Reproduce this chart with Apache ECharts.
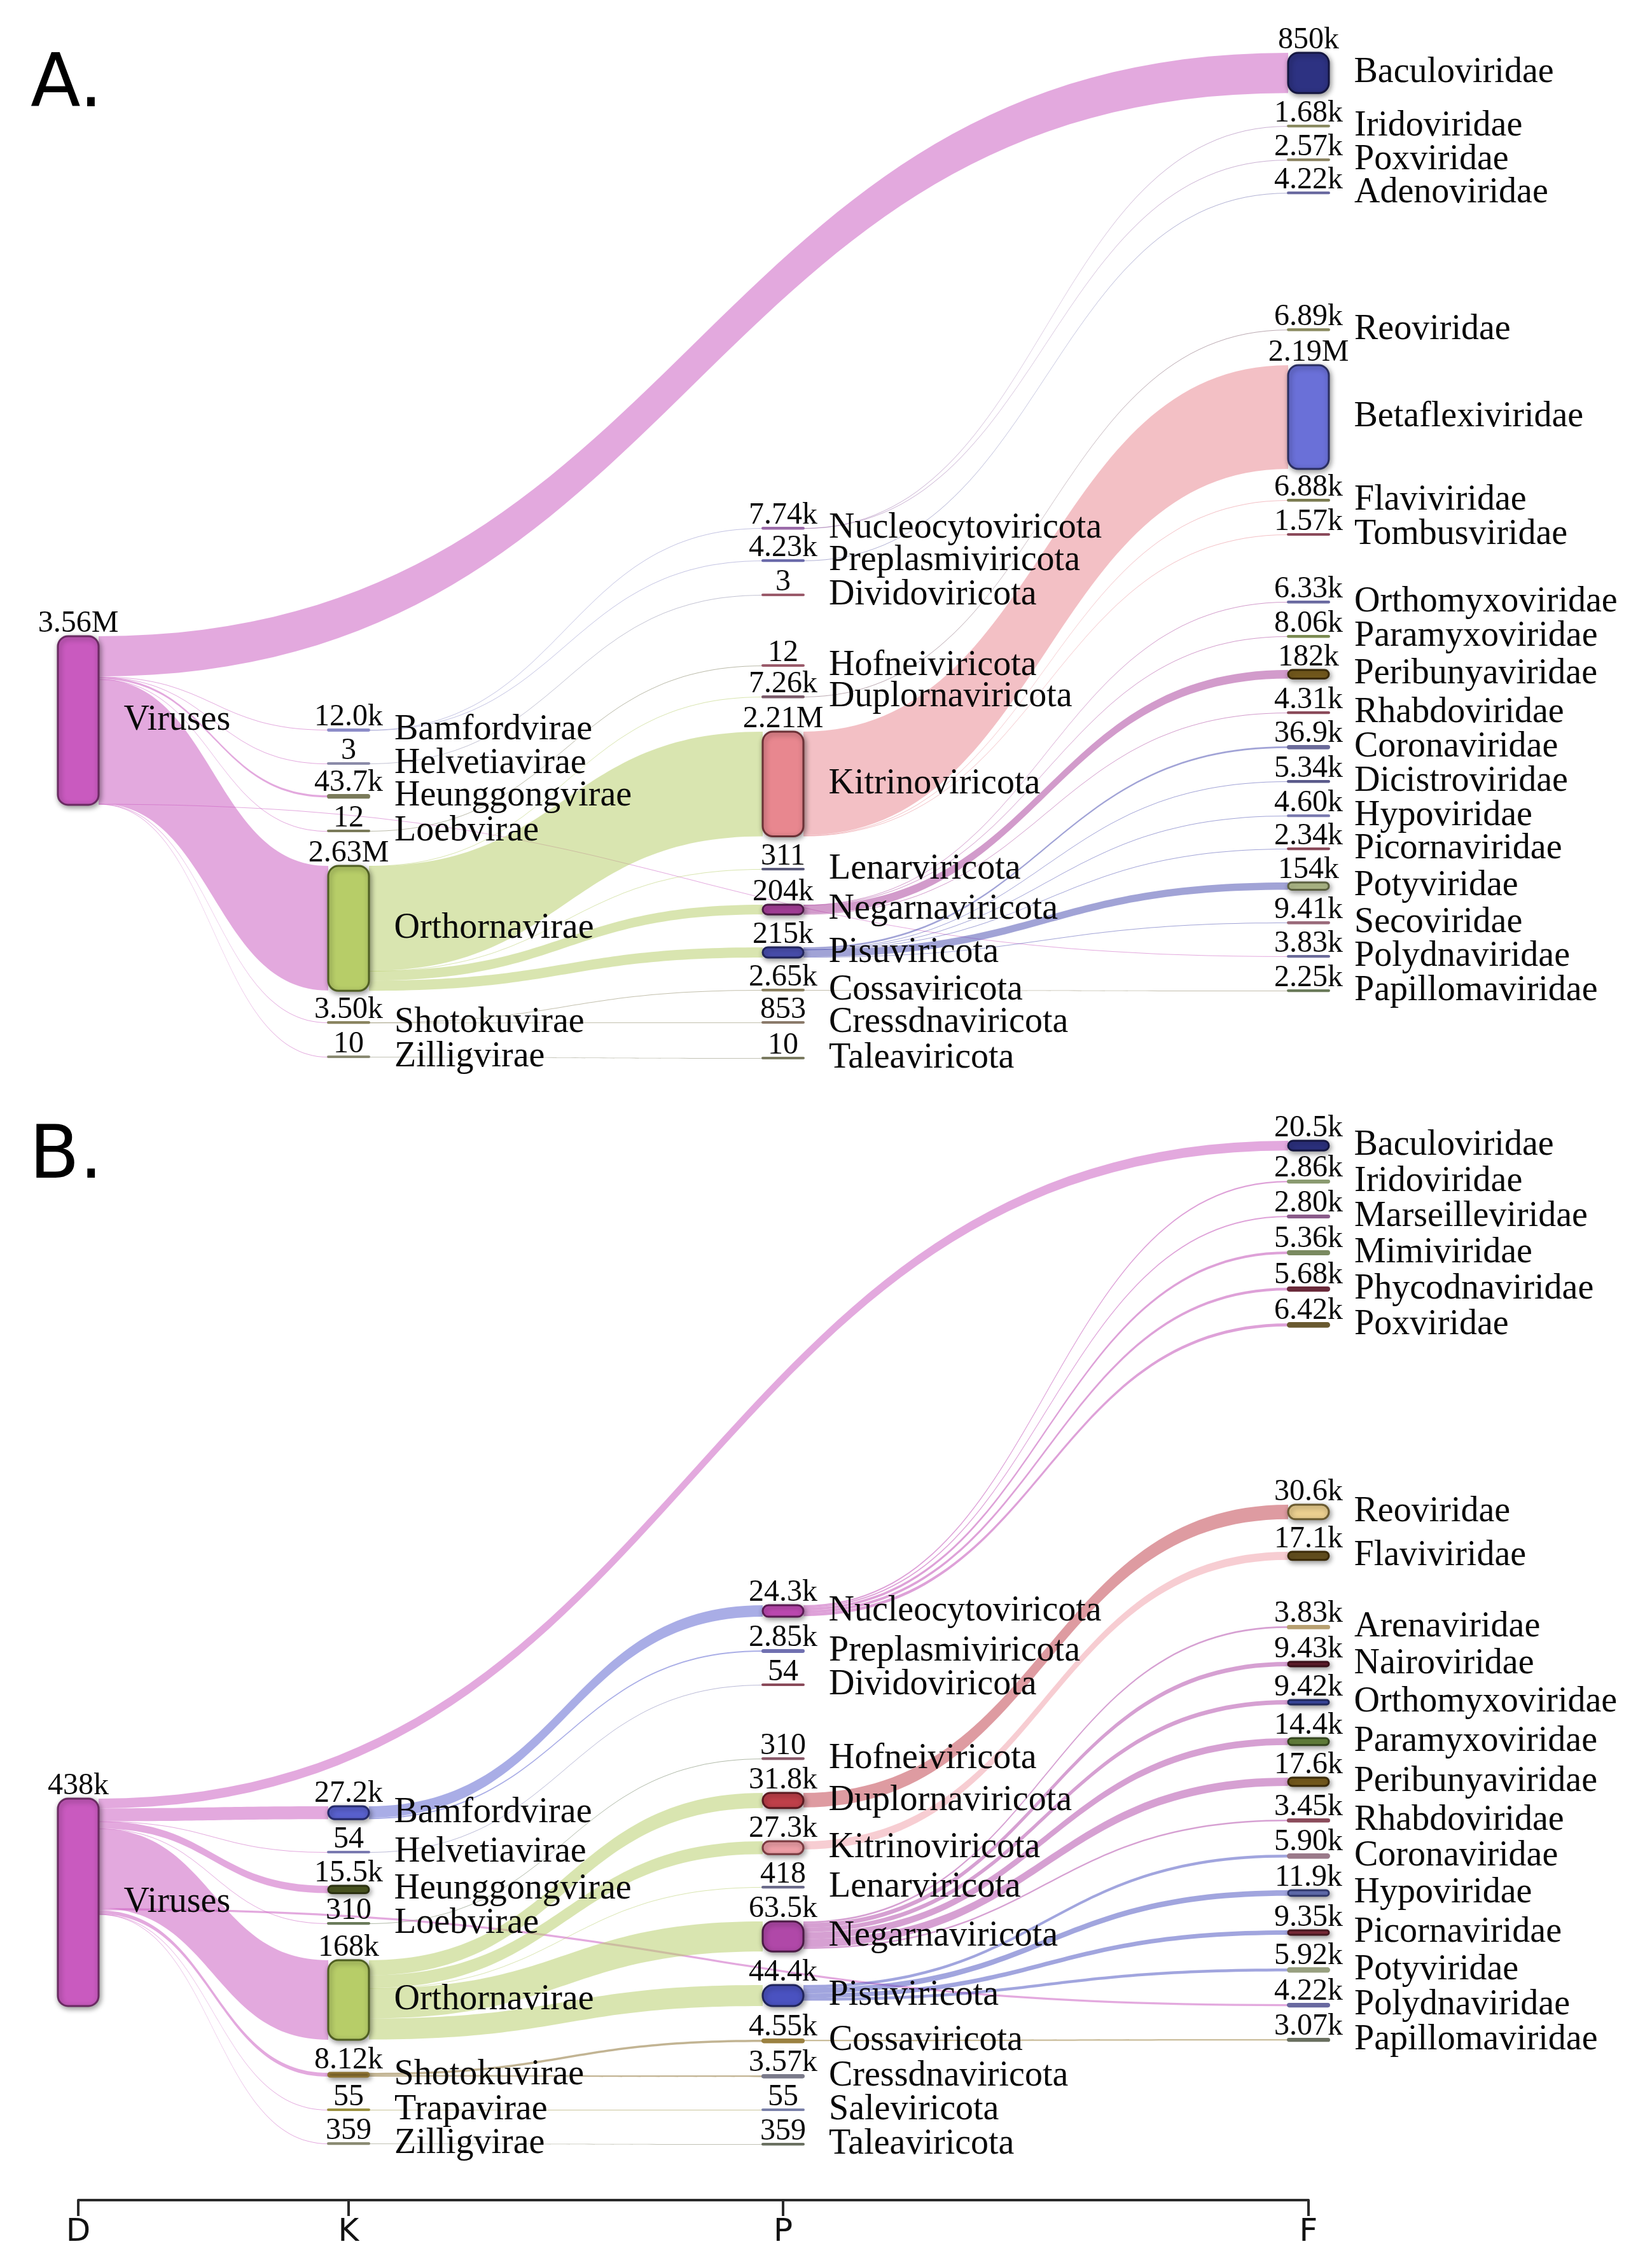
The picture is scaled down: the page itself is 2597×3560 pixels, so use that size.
<!DOCTYPE html>
<html><head><meta charset="utf-8">
<script src="https://cdn.jsdelivr.net/npm/echarts@6/dist/echarts.min.js"></script>
<style>html,body{margin:0;padding:0;background:#fff}#c{width:2597px;height:3560px}</style>
</head><body><div id="c"></div>
<script>
// ================= DATA =================
const rankLabels = ['D', 'K', 'P', 'F'];
const rootName = 'Viruses';

// ---- Panel A ----
const rootValueA = 3560000;
const kingdomsA = ['Bamfordvirae','Helvetiavirae','Heunggongvirae','Loebvirae','Orthornavirae','Shotokuvirae','Zilligvirae'];
const kingdomValuesA = [12000, 3, 43700, 12, 2630000, 3500, 10];
const phylaA = ['Nucleocytoviricota','Preplasmiviricota','Dividoviricota','Hofneiviricota','Duplornaviricota','Kitrinoviricota','Lenarviricota','Negarnaviricota','Pisuviricota','Cossaviricota','Cressdnaviricota','Taleaviricota'];
const phylumValuesA = [7740, 4230, 3, 12, 7260, 2210000, 311, 204000, 215000, 2650, 853, 10];
const phylumParentA = ['Bamfordvirae','Bamfordvirae','Helvetiavirae','Loebvirae','Orthornavirae','Orthornavirae','Orthornavirae','Orthornavirae','Orthornavirae','Shotokuvirae','Shotokuvirae','Zilligvirae'];
const familiesA = ['Baculoviridae','Iridoviridae','Poxviridae','Adenoviridae','Reoviridae','Betaflexiviridae','Flaviviridae','Tombusviridae','Orthomyxoviridae','Paramyxoviridae','Peribunyaviridae','Rhabdoviridae','Coronaviridae','Dicistroviridae','Hypoviridae','Picornaviridae','Potyviridae','Secoviridae','Polydnaviridae','Papillomaviridae'];
const familyValuesA = [850000, 1680, 2570, 4220, 6890, 2190000, 6880, 1570, 6330, 8060, 182000, 4310, 36900, 5340, 4600, 2340, 154000, 9410, 3830, 2250];
const familyParentA = ['Viruses','Nucleocytoviricota','Nucleocytoviricota','Preplasmiviricota','Duplornaviricota','Kitrinoviricota','Kitrinoviricota','Kitrinoviricota','Negarnaviricota','Negarnaviricota','Negarnaviricota','Negarnaviricota','Pisuviricota','Pisuviricota','Pisuviricota','Pisuviricota','Pisuviricota','Pisuviricota','Viruses','Cossaviricota'];

// ---- Panel B ----
const rootValueB = 438000;
const kingdomsB = ['Bamfordvirae','Helvetiavirae','Heunggongvirae','Loebvirae','Orthornavirae','Shotokuvirae','Trapavirae','Zilligvirae'];
const kingdomValuesB = [27200, 54, 15500, 310, 168000, 8120, 55, 359];
const phylaB = ['Nucleocytoviricota','Preplasmiviricota','Dividoviricota','Hofneiviricota','Duplornaviricota','Kitrinoviricota','Lenarviricota','Negarnaviricota','Pisuviricota','Cossaviricota','Cressdnaviricota','Saleviricota','Taleaviricota'];
const phylumValuesB = [24300, 2850, 54, 310, 31800, 27300, 418, 63500, 44400, 4550, 3570, 55, 359];
const phylumParentB = ['Bamfordvirae','Bamfordvirae','Helvetiavirae','Loebvirae','Orthornavirae','Orthornavirae','Orthornavirae','Orthornavirae','Orthornavirae','Shotokuvirae','Shotokuvirae','Trapavirae','Zilligvirae'];
const familiesB = ['Baculoviridae','Iridoviridae','Marseilleviridae','Mimiviridae','Phycodnaviridae','Poxviridae','Reoviridae','Flaviviridae','Arenaviridae','Nairoviridae','Orthomyxoviridae','Paramyxoviridae','Peribunyaviridae','Rhabdoviridae','Coronaviridae','Hypoviridae','Picornaviridae','Potyviridae','Polydnaviridae','Papillomaviridae'];
const familyValuesB = [20500, 2860, 2800, 5360, 5680, 6420, 30600, 17100, 3830, 9430, 9420, 14400, 17600, 3450, 5900, 11900, 9350, 5920, 4220, 3070];
const familyParentB = ['Viruses','Nucleocytoviricota','Nucleocytoviricota','Nucleocytoviricota','Nucleocytoviricota','Nucleocytoviricota','Duplornaviricota','Kitrinoviricota','Negarnaviricota','Negarnaviricota','Negarnaviricota','Negarnaviricota','Negarnaviricota','Negarnaviricota','Pisuviricota','Pisuviricota','Pisuviricota','Pisuviricota','Viruses','Cossaviricota'];

// ================= LAYOUT (positions only) =================
const colCenters = [123, 548, 1231, 2057];
const NODE_W = 64;
const LEFT = colCenters[0] - NODE_W / 2;
const WIDTH = colCenters[3] - colCenters[0] + NODE_W;
const layoutA = { top: 0, height: 265 };
const layoutB = { top: 0, height: 326 };
const nodeTopA = {
  'Viruses': 1000,
  'Bamfordvirae': 1147, 'Helvetiavirae': 1200, 'Heunggongvirae': 1250, 'Loebvirae': 1306, 'Orthornavirae': 1361, 'Shotokuvirae': 1607, 'Zilligvirae': 1661,
  'Nucleocytoviricota': 830, 'Preplasmiviricota': 881, 'Dividoviricota': 935, 'Hofneiviricota': 1046, 'Duplornaviricota': 1095, 'Kitrinoviricota': 1150, 'Lenarviricota': 1366, 'Negarnaviricota': 1422, 'Pisuviricota': 1489, 'Cossaviricota': 1556, 'Cressdnaviricota': 1607, 'Taleaviricota': 1663,
  'Baculoviridae': 83, 'Iridoviridae': 198, 'Poxviridae': 251, 'Adenoviridae': 303, 'Reoviridae': 518, 'Betaflexiviridae': 574, 'Flaviviridae': 786, 'Tombusviridae': 840, 'Orthomyxoviridae': 946, 'Paramyxoviridae': 1000, 'Peribunyaviridae': 1053, 'Rhabdoviridae': 1120, 'Coronaviridae': 1173, 'Dicistroviridae': 1228, 'Hypoviridae': 1282, 'Picornaviridae': 1334, 'Potyviridae': 1387, 'Secoviridae': 1450, 'Polydnaviridae': 1503, 'Papillomaviridae': 1557
};
const nodeTopB = {
  'Viruses': 2827,
  'Bamfordvirae': 2839, 'Helvetiavirae': 2911, 'Heunggongvirae': 2964, 'Loebvirae': 3023, 'Orthornavirae': 3081, 'Shotokuvirae': 3258, 'Trapavirae': 3316, 'Zilligvirae': 3369,
  'Nucleocytoviricota': 2523, 'Preplasmiviricota': 2594, 'Dividoviricota': 2648, 'Hofneiviricota': 2764, 'Duplornaviricota': 2818, 'Kitrinoviricota': 2894, 'Lenarviricota': 2966, 'Negarnaviricota': 3020, 'Pisuviricota': 3120, 'Cossaviricota': 3206, 'Cressdnaviricota': 3262, 'Saleviricota': 3316, 'Taleaviricota': 3370,
  'Baculoviridae': 1793, 'Iridoviridae': 1856, 'Marseilleviridae': 1911, 'Mimiviridae': 1967, 'Phycodnaviridae': 2024, 'Poxviridae': 2080, 'Reoviridae': 2365, 'Flaviviridae': 2439, 'Arenaviridae': 2556, 'Nairoviridae': 2612, 'Orthomyxoviridae': 2672, 'Paramyxoviridae': 2732, 'Peribunyaviridae': 2794, 'Rhabdoviridae': 2860, 'Coronaviridae': 2915, 'Hypoviridae': 2971, 'Picornaviridae': 3034, 'Potyviridae': 3094, 'Polydnaviridae': 3150, 'Papillomaviridae': 3205
};

// ================= STYLES =================
const colorsA = {
  'Viruses': ['#c95abf', '#6a2a62'],
  'Bamfordvirae': ['#8c8cc8'], 'Helvetiavirae': ['#8a8aa8'], 'Heunggongvirae': ['#7a7a5a'], 'Loebvirae': ['#7a7a5a'],
  'Orthornavirae': ['#b7cd68', '#4f5e22'], 'Shotokuvirae': ['#8a8460'], 'Zilligvirae': ['#8a8a72'],
  'Nucleocytoviricota': ['#9a6aa8'], 'Preplasmiviricota': ['#6a6aaa'], 'Dividoviricota': ['#9a5a6a'], 'Hofneiviricota': ['#9a5a6a'],
  'Duplornaviricota': ['#7a5a6a'], 'Kitrinoviricota': ['#e8878f', '#6a3035'], 'Lenarviricota': ['#5a5a7a'],
  'Negarnaviricota': ['#a8409c', '#4a1a44'], 'Pisuviricota': ['#4a4fb0', '#20245a'], 'Cossaviricota': ['#8a8060'],
  'Cressdnaviricota': ['#8a7a6a'], 'Taleaviricota': ['#7a7a60'],
  'Baculoviridae': ['#2d3282', '#141640'], 'Iridoviridae': ['#8a8a60'], 'Poxviridae': ['#8a8260'], 'Adenoviridae': ['#6a6aa0'],
  'Reoviridae': ['#8a8a60'], 'Betaflexiviridae': ['#6a70d8', '#2a2e60'], 'Flaviviridae': ['#7a7a50'], 'Tombusviridae': ['#8a4a5a'],
  'Orthomyxoviridae': ['#6a6aa0'], 'Paramyxoviridae': ['#7a8a50'], 'Peribunyaviridae': ['#7a5e1e', '#3a2a08'], 'Rhabdoviridae': ['#8a4a5a'],
  'Coronaviridae': ['#6a6a9a'], 'Dicistroviridae': ['#5a5a8a'], 'Hypoviridae': ['#7a7ab0'], 'Picornaviridae': ['#8a4a5a'],
  'Potyviridae': ['#b8c490', '#5a6040'], 'Secoviridae': ['#9a6a7a'], 'Polydnaviridae': ['#6a6a9a'], 'Papillomaviridae': ['#6a7a5a']
};
const colorsB = {
  'Viruses': ['#c95abf', '#6a2a62'],
  'Bamfordvirae': ['#5a62d0', '#252a6a'], 'Helvetiavirae': ['#7a7ab0'], 'Heunggongvirae': ['#4e5a22', '#2a3010'], 'Loebvirae': ['#6a7a5a'],
  'Orthornavirae': ['#b7cd68', '#4f5e22'], 'Shotokuvirae': ['#8a7030'], 'Trapavirae': ['#9a9040'], 'Zilligvirae': ['#8a8a72'],
  'Nucleocytoviricota': ['#c04ab4', '#5a1a52'], 'Preplasmiviricota': ['#7070b0'], 'Dividoviricota': ['#8a4a5a'], 'Hofneiviricota': ['#8a5a6a'],
  'Duplornaviricota': ['#c0404a', '#5a1a20'], 'Kitrinoviricota': ['#f0a0a8', '#7a3a40'], 'Lenarviricota': ['#6a6a8a'],
  'Negarnaviricota': ['#b048a8', '#4a1a44'], 'Pisuviricota': ['#4a52c0', '#20245a'], 'Cossaviricota': ['#9a8040'],
  'Cressdnaviricota': ['#7a7a8a'], 'Saleviricota': ['#7a80a8'], 'Taleaviricota': ['#6a7060'],
  'Baculoviridae': ['#2d3282', '#141640'], 'Iridoviridae': ['#8a9a70'], 'Marseilleviridae': ['#8a5a8a'], 'Mimiviridae': ['#7a8a60'],
  'Phycodnaviridae': ['#6a2a3a'], 'Poxviridae': ['#6a5a30'], 'Reoviridae': ['#ecd090', '#6a5a30'], 'Flaviviridae': ['#6a5420', '#3a2a08'],
  'Arenaviridae': ['#b8a070'], 'Nairoviridae': ['#6a2030', '#3a1018'], 'Orthomyxoviridae': ['#4050b0', '#20285a'], 'Paramyxoviridae': ['#6a8a40', '#34451e'],
  'Peribunyaviridae': ['#7a5e1e', '#3a2a08'], 'Rhabdoviridae': ['#8a4a5a'], 'Coronaviridae': ['#9a7a8a'], 'Hypoviridae': ['#6a78c0', '#30386a'],
  'Picornaviridae': ['#8a3040', '#451820'], 'Potyviridae': ['#98a080'], 'Polydnaviridae': ['#6a6aa0'], 'Papillomaviridae': ['#6a7060']
};

const FONT = '"Liberation Serif", "DejaVu Serif", serif';

function fmt(v) {
  if (v >= 1e6) return (v / 1e6).toPrecision(3) + 'M';
  if (v >= 1e3) return (v / 1e3).toPrecision(3) + 'k';
  return String(v);
}
function localX(depth) { return (colCenters[depth] - NODE_W / 2 - LEFT) / WIDTH; }

function buildPanel(rootValue, kingdoms, kVals, phyla, pVals, pParent, families, fVals, fParent, tops, layout, colors) {
  const ky = layout.height / rootValue;
  const entries = [[rootName, rootValue, 0]];
  kingdoms.forEach((n, i) => entries.push([n, kVals[i], 1]));
  phyla.forEach((n, i) => entries.push([n, pVals[i], 2]));
  families.forEach((n, i) => entries.push([n, fVals[i], 3]));
  const styled = [], plain = [];
  entries.forEach(([name, value, depth]) => {
    const base = { name, value, depth, localX: localX(depth), localY: (tops[name] - layout.top) / layout.height };
    plain.push(Object.assign({}, base));
    const c = colors[name] || ['#888888'];
    const big = value * ky > 5;
    styled.push(Object.assign({}, base, {
      itemStyle: {
        color: c[0], borderColor: c[1] || c[0], borderWidth: big ? 3 : 4,
        shadowBlur: big ? 8 : 0, shadowColor: 'rgba(0,0,0,0.4)', shadowOffsetX: big ? 2 : 0, shadowOffsetY: big ? 3 : 0
      }
    }));
  });
  const links = [];
  families.forEach((f, i) => { if (fParent[i] === rootName && i === 0) links.push({ source: rootName, target: f, value: fVals[i] }); });
  kingdoms.forEach((k, i) => links.push({ source: rootName, target: k, value: kVals[i] }));
  families.forEach((f, i) => { if (fParent[i] === rootName && i !== 0) links.push({ source: rootName, target: f, value: fVals[i] }); });
  phyla.forEach((p, i) => links.push({ source: pParent[i], target: p, value: pVals[i] }));
  families.forEach((f, i) => { if (fParent[i] !== rootName) links.push({ source: fParent[i], target: f, value: fVals[i] }); });
  return { styled, plain, links };
}

function seriesPair(panel, layout) {
  const common = {
    type: 'sankey', left: LEFT, top: layout.top, width: WIDTH, height: layout.height,
    nodeWidth: NODE_W, nodeGap: 0, layoutIterations: 0, nodeAlign: 'left',
    draggable: false, silent: true, animation: false, emphasis: { disabled: true },
    links: panel.links
  };
  const main = Object.assign({}, common, {
    data: panel.styled,
    itemStyle: { borderRadius: 16 },
    lineStyle: { color: 'source', opacity: 0.52, curveness: 0.5 },
    label: { show: true, position: 'right', distance: 38, fontFamily: FONT, fontSize: 56, color: '#0a0a0a', formatter: '{b}' }
  });
  const vals = Object.assign({}, common, {
    data: panel.plain,
    z: 5,
    itemStyle: { color: 'rgba(0,0,0,0)', borderWidth: 0 },
    lineStyle: { color: 'rgba(0,0,0,0)', opacity: 0 },
    label: { show: true, position: 'top', distance: -4, fontFamily: FONT, fontSize: 48, color: '#0a0a0a', formatter: p => fmt(p.value) }
  });
  return [main, vals];
}

const panelA = buildPanel(rootValueA, kingdomsA, kingdomValuesA, phylaA, phylumValuesA, phylumParentA, familiesA, familyValuesA, familyParentA, nodeTopA, layoutA, colorsA);
const panelB = buildPanel(rootValueB, kingdomsB, kingdomValuesB, phylaB, phylumValuesB, phylumParentB, familiesB, familyValuesB, familyParentB, nodeTopB, layoutB, colorsB);

const chart = echarts.init(document.getElementById('c'), null, { renderer: 'canvas' });
chart.setOption({
  backgroundColor: '#ffffff',
  animation: false,
  title: [
    { text: 'A.', left: 48, top: 80, padding: 0, textStyle: { fontFamily: '"DejaVu Sans", sans-serif', fontSize: 115, fontWeight: 'normal', color: '#000' } },
    { text: 'B.', left: 46, top: 1764, padding: 0, textStyle: { fontFamily: '"DejaVu Sans", sans-serif', fontSize: 115, fontWeight: 'normal', color: '#000' } }
  ],
  grid: { left: colCenters[0], right: 2597 - colCenters[3], top: 3405, height: 53 },
  xAxis: {
    type: 'value', min: colCenters[0], max: colCenters[3], position: 'bottom',
    axisLine: { show: true, lineStyle: { color: '#2a2a2a', width: 4 } },
    axisTick: { show: true, customValues: colCenters, length: 25, lineStyle: { color: '#2a2a2a', width: 4 } },
    axisLabel: { show: true, customValues: colCenters, showMinLabel: true, showMaxLabel: true, margin: 26,
      formatter: v => rankLabels[colCenters.indexOf(v)] || '', fontFamily: '"DejaVu Sans", sans-serif', fontSize: 50, color: '#111' },
    splitLine: { show: false }
  },
  yAxis: { type: 'value', show: false },
  series: [...seriesPair(panelA, layoutA), ...seriesPair(panelB, layoutB)]
});
</script>
</body></html>
